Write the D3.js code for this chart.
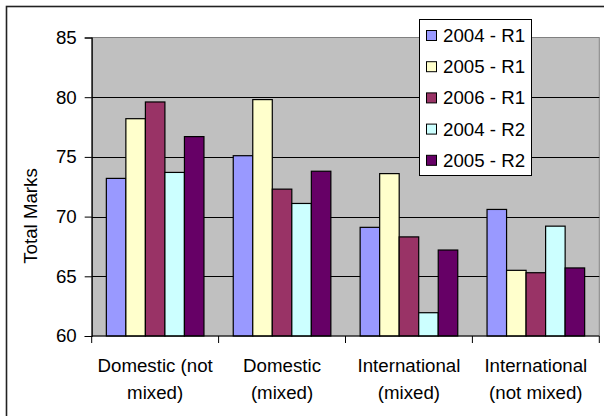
<!DOCTYPE html>
<html>
<head>
<meta charset="utf-8">
<script src="https://cdn.jsdelivr.net/npm/d3@7/dist/d3.min.js"></script>
<style>
  html, body { margin: 0; padding: 0; background: #fff; }
  svg { display: block; }
  text { font-family: "Liberation Sans", Arial, sans-serif; fill: #000; }
</style>
</head>
<body>
<svg id="chart" width="604" height="416"></svg>
<script>
// Category labels (two lines each)
const categories = [
  ["Domestic (not", "mixed)"],
  ["Domestic", "(mixed)"],
  ["International", "(mixed)"],
  ["International", "(not mixed)"]
];
const seriesNames = ["2004 - R1", "2005 - R1", "2006 - R1", "2004 - R2", "2005 - R2"];
const seriesColors = ["#9999FF", "#FFFFCC", "#993366", "#CCFFFF", "#660066"];

// Total marks per series, one value per category
const s2004R1 = [73.2, 75.1, 69.1, 70.6];
const s2005R1 = [78.2, 79.8, 73.6, 65.5];
const s2006R1 = [79.6, 72.3, 68.3, 65.3];
const s2004R2 = [73.7, 71.1, 61.95, 69.2];
const s2005R2 = [76.7, 73.8, 67.2, 65.7];
const seriesValues = [s2004R1, s2005R1, s2006R1, s2004R2, s2005R2];

const yTicks = [60, 65, 70, 75, 80, 85];
const yTitle = "Total Marks";

const svg = d3.select("#chart");
const fontSize = 18.7;

const plot = { left: 91.7, right: 599.3, top: 37.5, bottom: 336 };

// Chart area frame (extends past the right and bottom edges)
svg.append("rect")
  .attr("x", 6.5).attr("y", 6.5)
  .attr("width", 640).attr("height", 440)
  .attr("fill", "#fff").attr("stroke", "#222").attr("stroke-width", 1.6);

const y = d3.scaleLinear().domain([60, 85]).range([plot.bottom, plot.top]);
const x0 = d3.scaleBand()
  .domain(d3.range(categories.length))
  .range([plot.left, plot.right])
  .padding(0);

// Gap width 150%: five bars plus 1.5 bar widths of gap per category
const step = x0.bandwidth();
const barW = step / (seriesNames.length + 1.5);
const groupOffset = barW * 0.75;
const x1 = d3.scaleBand()
  .domain(d3.range(seriesNames.length))
  .range([groupOffset, groupOffset + barW * seriesNames.length])
  .padding(0);

// Plot area
svg.append("rect")
  .attr("x", plot.left).attr("y", plot.top)
  .attr("width", plot.right - plot.left).attr("height", plot.bottom - plot.top)
  .attr("fill", "#C0C0C0").attr("stroke", "#808080").attr("stroke-width", 1);

// Gridlines
svg.append("g").selectAll("line")
  .data(yTicks.filter(t => t > 60 && t < 85))
  .join("line")
  .attr("x1", plot.left).attr("x2", plot.right)
  .attr("y1", d => Math.round(y(d)) + 0.5).attr("y2", d => Math.round(y(d)) + 0.5)
  .attr("stroke", "#000").attr("stroke-width", 1);

// Bars
const groups = svg.append("g").selectAll("g")
  .data(categories.map((c, i) => i))
  .join("g")
  .attr("transform", i => `translate(${x0(i)},0)`);

groups.selectAll("rect")
  .data(i => seriesValues.map((vals, s) => ({ s, v: vals[i] })))
  .join("rect")
  .attr("x", d => x1(d.s))
  .attr("width", x1.bandwidth())
  .attr("y", d => y(d.v))
  .attr("height", d => y(60) - y(d.v))
  .attr("fill", d => seriesColors[d.s])
  .attr("stroke", "#000").attr("stroke-width", 1.2);

// Y axis
const yAxis = d3.axisLeft(y).tickValues(yTicks).tickSize(7).tickPadding(8).tickFormat(d3.format("d"));
const yg = svg.append("g").attr("transform", `translate(${plot.left},0)`).call(yAxis);
yg.select(".domain").attr("stroke", "#000").attr("stroke-width", 1.2);
yg.selectAll(".tick line").attr("stroke", "#000");
yg.selectAll(".tick text")
  .attr("font-size", fontSize)
  .attr("font-family", "Liberation Sans, Arial, sans-serif")
  .attr("fill", "#000");

// X axis: baseline with tick marks at category boundaries
const xg = svg.append("g");
xg.append("line")
  .attr("x1", plot.left).attr("x2", plot.right)
  .attr("y1", plot.bottom).attr("y2", plot.bottom)
  .attr("stroke", "#000").attr("stroke-width", 1.2);
const boundaries = x0.domain().map(i => x0(i)).concat([plot.right]);
xg.selectAll("line.tick")
  .data(boundaries)
  .join("line")
  .attr("class", "tick")
  .attr("x1", d => d).attr("x2", d => d)
  .attr("y1", plot.bottom).attr("y2", plot.bottom + 7)
  .attr("stroke", "#000").attr("stroke-width", 1);

// Category labels
const catText = svg.append("g").selectAll("text")
  .data(categories)
  .join("text")
  .attr("font-size", fontSize)
  .attr("text-anchor", "middle");
catText.each(function (lines, i) {
  const cx = x0(i) + step / 2;
  d3.select(this).selectAll("tspan")
    .data(lines)
    .join("tspan")
    .attr("x", cx)
    .attr("y", (d, k) => 372 + k * 26.5)
    .text(d => d);
});

// Y axis title
svg.append("text")
  .attr("transform", `translate(37,${216}) rotate(-90)`)
  .attr("text-anchor", "middle")
  .attr("font-size", fontSize)
  .text(yTitle);

// Legend
const legend = svg.append("g");
legend.append("rect")
  .attr("x", 419.5).attr("y", 19.5)
  .attr("width", 112).attr("height", 156)
  .attr("fill", "#fff").attr("stroke", "#000").attr("stroke-width", 1);
const rows = legend.selectAll("g.row")
  .data(seriesNames)
  .join("g")
  .attr("class", "row")
  .attr("transform", (d, i) => `translate(0,${35.5 + i * 31.2})`);
rows.append("rect")
  .attr("x", 426.5).attr("y", -5)
  .attr("width", 10).attr("height", 10)
  .attr("fill", (d, i) => seriesColors[i])
  .attr("stroke", "#000").attr("stroke-width", 1);
rows.append("text")
  .attr("x", 443)
  .attr("y", 6.5)
  .attr("font-size", fontSize)
  .text(d => d);
</script>
</body>
</html>
